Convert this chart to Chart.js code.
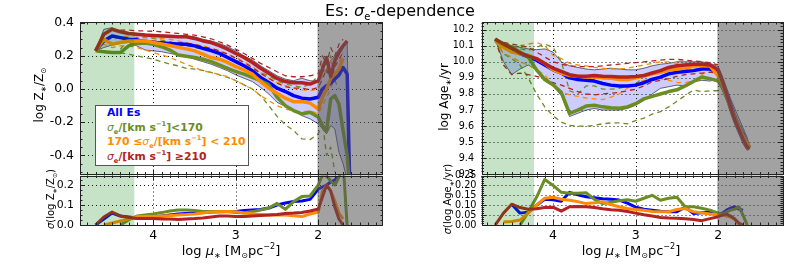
<!DOCTYPE html>
<html><head><meta charset="utf-8">
<script src="https://cdn.jsdelivr.net/npm/chart.js@4.4.1/dist/chart.umd.min.js"></script>
<style>
html,body{margin:0;padding:0;background:#fff;}
#wrap{position:relative;width:800px;height:265px;overflow:hidden;font-family:'DejaVu Sans',sans-serif;}
canvas{position:absolute;left:0;top:0;}
.t{position:absolute;white-space:nowrap;color:#000;}
.rot{transform:translate(-50%,-50%) rotate(-90deg);}
sub,sup{font-size:62%;line-height:0;}
#leg{position:absolute;left:95px;top:105px;width:141px;height:59px;border:1px solid #555;background:#fff;padding:0 0 0 11px;box-sizing:content-box;font-weight:bold;font-size:10.8px;line-height:14.5px;}
#leg i{font-weight:normal;}
</style></head><body>
<div id="wrap">
<canvas id="c1" width="800" height="265"></canvas>
<canvas id="c2" width="800" height="265"></canvas>
<canvas id="c3" width="800" height="265"></canvas>
<canvas id="c4" width="800" height="265"></canvas>
<div class="t" style="left:0;width:800px;text-align:center;top:1px;font-size:16px;">Es: <i>σ</i><sub>e</sub>-dependence</div>
<div class="t rot" style="left:39px;top:95px;font-size:12px;">log Z<sub>∗</sub>/Z<sub>⊙</sub></div>
<div class="t rot" style="left:50px;top:199px;font-size:10px;"><i>σ</i>(log Z<sub>∗</sub>/Z<sub>⊙</sub>)</div>
<div class="t rot" style="left:444px;top:97px;font-size:12px;">log Age<sub>∗</sub>/yr</div>
<div class="t rot" style="left:447px;top:199px;font-size:10px;"><i>σ</i>(log Age<sub>∗</sub>/yr)</div>
<div class="t" style="left:231px;top:250px;transform:translate(-50%,-50%);font-size:13px;">log <i>μ</i><sub>∗</sub> [M<sub>⊙</sub>pc<sup>−2</sup>]</div>
<div class="t" style="left:631px;top:250px;transform:translate(-50%,-50%);font-size:13px;">log <i>μ</i><sub>∗</sub> [M<sub>⊙</sub>pc<sup>−2</sup>]</div>
<div id="leg">
<div style="color:#0000ff">All Es</div>
<div style="color:#6b8e23"><i>σ</i><sub>e</sub>/[km s<sup>−1</sup>]&lt;170</div>
<div style="color:#ff8c00">170 ≤<i>σ</i><sub>e</sub>/[km s<sup>−1</sup>] &lt; 210</div>
<div style="color:#b22222"><i>σ</i><sub>e</sub>/[km s<sup>−1</sup>] ≥210</div>
</div>
</div>
<script>
// ---------- data ----------
const XS = [4.7,4.6,4.5,4.4,4.3,4.2,4.1,4.0,3.9,3.8,3.7,3.6,3.5,3.4,3.3,3.2,3.1,3.0,2.9,2.8,2.7,2.6,2.5,2.4,2.3,2.2,2.1,2.0,1.95,1.9,1.85,1.8,1.75,1.7,1.65,1.62];
const X_TICKS = [4,3,2];
const GREEN_EDGE = 4.23;
const GRAY_EDGE = 2.01;

// metallicity
const Z_ALL  = [0.23,0.29,0.32,0.31,0.30,0.295,0.285,0.28,0.277,0.274,0.272,0.27,0.26,0.245,0.232,0.215,0.19,0.165,0.14,0.11,0.07,0.04,0.005,-0.015,-0.04,-0.055,-0.06,-0.05, 0.0,0.02,0.034,0.06,0.084,0.13,0.09,-0.55];
const Z_LOW  = [0.23,0.225,0.22,0.22,0.26,0.275,0.277,0.27,0.255,0.235,0.205,0.197,0.19,0.18,0.165,0.145,0.125,0.105,0.09,0.07,0.05,0.025,-0.05,-0.1,-0.13,-0.15,-0.14,-0.17, -0.22,-0.25,-0.06,-0.04,-0.09,-0.25,-0.4,-0.6];
const Z_MID  = [0.23,0.30,0.27,0.28,0.29,0.29,0.29,0.28,0.272,0.262,0.252,0.242,0.23,0.21,0.19,0.18,0.16,0.135,0.115,0.09,0.045,0.005,-0.026,-0.055,-0.076,-0.075,-0.085,-0.12, -0.05,0.0,0.064,0.09,0.12,0.185,null,null];
const Z_HIGH = [0.23,0.33,0.36,0.345,0.335,0.33,0.325,0.323,0.32,0.318,0.315,0.315,0.305,0.29,0.28,0.262,0.24,0.214,0.19,0.16,0.125,0.095,0.064,0.045,0.038,0.038,0.03,0.05, 0.12,0.19,0.075,0.17,0.22,0.26,0.29,null];
const Z_BAND_HI = [0.23,0.36,0.37,0.35,0.34,0.335,0.33,0.328,0.325,0.323,0.32,0.32,0.315,0.30,0.29,0.275,0.255,0.23,0.2,0.175,0.14,0.11,0.08,0.06,0.05,0.065,0.05,0.045, 0.1,0.12,0.17,0.2,0.24,0.27,0.28,-0.6];
const Z_BAND_LO = [0.23,0.25,0.265,0.275,0.28,0.26,0.235,0.23,0.225,0.215,0.205,0.195,0.18,0.165,0.15,0.13,0.11,0.085,0.065,0.045,0.01,-0.03,-0.08,-0.105,-0.13,-0.16,-0.18,-0.21, -0.24,-0.27,-0.22,-0.24,-0.38,-0.45,-0.55,-0.6];
const Z_HIGH_UP = [0.23,0.33,0.355,0.355,0.355,0.35,0.35,0.348,0.345,0.34,0.335,0.33,0.325,0.315,0.303,0.285,0.265,0.24,0.214,0.185,0.155,0.13,0.104,0.08,0.074,0.074,0.08,0.094, 0.2,0.15,0.25,0.2,0.27,0.3,null,null];
const Z_HIGH_LO = [0.23,0.3,0.32,0.31,0.305,0.3,0.295,0.29,0.285,0.28,0.278,0.275,0.27,0.255,0.245,0.23,0.21,0.185,0.16,0.13,0.095,0.065,0.035,0.015,0.005,0.005,-0.005,0.01, 0.06,0.12,0.05,0.13,0.18,0.22,null,null];
const Z_MID_UP = [0.23,0.31,0.30,0.31,0.32,0.32,0.315,0.31,0.305,0.30,0.29,0.28,0.27,0.26,0.245,0.23,0.21,0.19,0.165,0.135,0.1,0.065,0.04,0.02,0.005,-0.005,-0.01,0.0, 0.08,0.12,0.17,0.2,0.16,0.22,null,null];
const Z_MID_LO = [0.23,0.27,0.25,0.26,0.26,0.25,0.235,0.22,0.205,0.19,0.17,0.148,0.13,0.11,0.1,0.088,0.074,0.05,0.025,0.0,-0.04,-0.07,-0.1,-0.12,-0.13,-0.14,-0.13,-0.15, -0.1,-0.05,0.0,0.08,null,null,null,null];
const Z_LOW_UP = [null,null,null,0.24,0.3,0.31,0.31,0.305,0.295,0.285,0.27,0.26,0.25,0.24,0.23,0.21,0.19,0.165,0.145,0.12,0.1,0.08,0.05,0.03,0.02,0.01,0.03,0.08, 0.15,0.1,0.2,0.05,0.0,null,null,null];
const Z_LOW_LO = [null,null,null,0.22,0.21,0.2,0.19,0.18,0.165,0.15,0.14,0.125,0.12,0.112,0.1,0.085,0.07,0.05,0.025,0.0,-0.04,-0.1,-0.165,-0.215,-0.25,-0.3,-0.305,-0.27, -0.2,-0.4,-0.35,-0.5,null,null,null,null];

// age
const A_ALL  = [10.14,10.10,10.07,10.05,10.03,10.01,9.98,9.95,9.93,9.90,9.89,9.885,9.88,9.865,9.855,9.85,9.85,9.855,9.87,9.89,9.905,9.925,9.935,9.94,9.945,9.955,9.955,9.93, 9.87,9.80,9.73,9.66,9.60,9.55,9.49,9.47];
const A_LOW  = [10.14,10.11,10.09,10.06,10.03,9.95,9.89,9.857,9.81,9.68,9.70,9.725,9.73,9.72,9.715,9.712,9.72,9.74,9.77,9.785,9.80,9.815,9.826,9.85,9.878,9.905,9.895,9.88, 9.84,9.78,9.72,9.66,9.60,9.54,9.49,9.47];
const A_MID  = [10.13,10.09,10.06,10.05,10.04,10.02,9.99,9.95,9.93,9.915,9.91,9.905,9.905,9.90,9.898,9.89,9.888,9.90,9.912,9.925,9.935,9.948,9.955,9.962,9.972,9.977,9.975,9.91, 9.86,9.79,9.72,9.65,9.59,9.54,9.49,9.47];
const A_HIGH = [10.14,10.11,10.085,10.055,10.035,10.02,9.99,9.96,9.94,9.92,9.91,9.91,9.915,9.91,9.909,9.905,9.905,9.909,9.915,9.93,9.945,9.965,9.975,9.98,9.985,9.985,9.98,9.95, 9.88,9.80,9.72,9.64,9.58,9.52,9.47,9.46];
const A_BAND_HI = [10.14,10.12,10.10,10.09,10.08,10.075,10.08,10.06,10.0,9.975,9.965,9.955,9.95,9.955,9.96,9.955,9.95,9.95,9.96,9.975,9.985,9.99,10.0,10.0,10.0,10.0,9.99,9.97, 9.91,9.84,9.77,9.71,9.65,9.59,9.53,9.47];
const A_BAND_LO = [10.14,10.0,9.92,9.955,9.98,9.95,9.88,9.85,9.79,9.66,9.68,9.70,9.71,9.70,9.70,9.70,9.71,9.73,9.76,9.80,9.835,9.845,9.855,9.85,9.875,9.885,9.88,9.895, 9.84,9.76,9.68,9.61,9.55,9.49,9.45,9.46];
const A_HIGH_UP = [10.14,10.12,10.11,10.1,10.09,10.06,10.03,10.0,9.985,9.975,9.97,9.97,9.97,9.975,9.98,9.985,9.99,9.995,10.0,10.005,10.01,10.015,10.015,10.01,10.005,10.0,9.995,9.98];
const A_HIGH_LO = [10.14,9.98,9.92,9.93,9.92,9.91,9.895,9.87,9.855,9.835,9.815,9.80,9.795,9.80,9.805,9.81,9.82,9.83,9.85,9.875,9.885,9.895,9.91,9.92,9.925,9.93,9.935,9.93];
const A_MID_UP = [10.13,10.1,10.08,10.1,10.11,10.12,10.1,10.04,10.02,9.99,9.98,9.975,9.965,9.96,9.955,9.955,9.96,9.97,9.98,9.99,10.0,10.0,9.99,9.99,9.985,9.96,9.97,9.95];
const A_MID_LO = [10.13,10.05,10.03,10.0,9.98,9.95,9.92,9.85,9.815,9.795,9.785,9.775,9.77,9.765,9.78,9.80,9.836,9.865,9.885,9.898,9.895,9.885,9.872,9.87,9.88,9.92,9.95,9.93];
const A_LOW_UP = [10.14,10.12,10.1,10.08,10.07,10.09,10.11,10.09,10.0,9.82,9.80,9.85,9.85,9.83,9.83,9.835,9.85,9.86,9.91,9.935,9.93,9.95,9.965,9.95,9.97,9.985,9.97,9.96];
const A_LOW_LO = [10.14,10.05,10.02,9.98,9.90,9.80,9.72,9.665,9.625,9.605,9.60,9.60,9.605,9.615,9.62,9.62,9.615,9.635,9.65,9.675,9.69,9.72,9.755,9.79,9.825,9.815,9.82,9.82];

// scatter (sigma)
const S_Z_ALL  = [0.0,0.03,0.06,0.045,0.04,0.035,0.035,0.04,0.045,0.05,0.055,0.058,0.06,0.063,0.065,0.066,0.067,0.068,0.072,0.075,0.078,0.085,0.1,0.11,0.117,0.12,0.128,0.18, 0.19,0.2,0.215,0.225,0.245,0.27,null,null];
const S_Z_LOW  = [null,null,null,0.0,0.025,0.045,0.05,0.055,0.062,0.07,0.075,0.075,0.072,0.067,0.067,0.067,0.067,0.062,0.06,0.067,0.075,0.085,0.108,0.078,0.117,0.142,0.145,0.2, 0.25,0.245,0.22,0.2,0.24,0.32,-0.01,null];
const S_Z_MID  = [null,0.0,0.01,0.02,0.03,0.042,0.042,0.043,0.045,0.047,0.05,0.052,0.055,0.06,0.065,0.066,0.067,0.066,0.06,0.056,0.053,0.05,0.05,0.05,0.046,0.042,0.055,0.065, 0.17,0.2,0.17,0.12,0.06,0.03,null,null];
const S_Z_HIGH = [0.0,0.04,0.065,0.045,0.038,0.033,0.033,0.032,0.03,0.03,0.028,0.03,0.032,0.035,0.04,0.045,0.045,0.043,0.042,0.045,0.048,0.05,0.052,0.058,0.06,0.063,0.07,0.08, 0.14,0.2,0.17,0.09,0.03,0.0,null,null];
const S_A_ALL  = [null,null,0.105,0.06,0.065,0.1,0.13,0.128,0.12,0.165,0.152,0.143,0.138,0.133,0.13,0.126,0.11,0.09,0.08,0.075,0.07,0.067,0.067,0.09,0.058,0.062,0.065,0.058, 0.06,0.075,0.085,0.092,0.08,0.075,null,null];
const S_A_LOW  = [null,null,null,0.0,0.065,0.14,0.23,0.2,0.165,0.16,0.16,0.163,0.13,0.108,0.115,0.122,0.128,0.12,0.135,0.15,0.125,0.135,0.14,0.092,0.092,0.085,0.075,0.06, 0.055,0.065,0.075,0.08,0.092,0.05,0.0,null];
const S_A_MID  = [null,0.015,0.018,0.025,0.06,0.1,0.135,0.14,0.13,0.125,0.118,0.108,0.112,0.117,0.103,0.092,0.083,0.078,0.074,0.068,0.067,0.067,0.078,0.083,0.067,0.062,0.056,0.05, 0.05,0.045,0.04,0.03,0.0,null,null,null];
const S_A_HIGH = [0.0,0.06,0.105,0.088,0.08,0.082,0.088,0.09,0.07,0.092,0.093,0.092,0.088,0.082,0.077,0.074,0.068,0.06,0.052,0.045,0.038,0.035,0.034,0.032,0.028,0.022,0.032,0.042, 0.05,0.055,0.045,0.03,0.01,0.0,null,null];

const Y_TICKS_Z = [-0.4,-0.2,0,0.2,0.4];
const Y_TICKS_SZ = [0,0.1,0.2];
const Y_TICKS_A = [9.3,9.4,9.5,9.6,9.7,9.8,9.9,10.0,10.1,10.2];
const Y_TICKS_SA = [0,0.05,0.1,0.15,0.2,0.25];

// ---------- drawing ----------
Chart.defaults.font.family = "'DejaVu Sans', sans-serif";
Chart.defaults.color = '#000';
const COL = {blue:'#0000ff', green:'#6b8e23', orange:'#ff8c00', red:'#b22222'};

function pts(a){ return XS.map((x,i)=>({x:x, y:(a[i]===undefined?null:a[i])})); }
function ln(a,color,w,order,dash){
  return {data:pts(a), borderColor:color, borderWidth:w, pointRadius:0, tension:0, fill:false,
          order:order, borderDash:dash||[], borderCapStyle:'butt', borderJoinStyle:'round', spanGaps:false};
}
function seq(a,b,step){ const r=[]; const n=Math.round((b-a)/step); for(let i=0;i<=n;i++) r.push(+(a+i*step).toFixed(4)); return r; }

const decor = {
  id:'decor',
  beforeDatasetsDraw(chart, args, o){
    const {ctx, chartArea:a, scales:{x,y}} = chart;
    ctx.save();
    ctx.strokeStyle='#111'; ctx.lineWidth=1; ctx.setLineDash([1,3]);
    ctx.beginPath();
    X_TICKS.forEach(v=>{const p=Math.round(x.getPixelForValue(v))+0.5; ctx.moveTo(p,a.top); ctx.lineTo(p,a.bottom);});
    o.yGrid.forEach(v=>{const p=Math.round(y.getPixelForValue(v))+0.5; if(p<=a.top+1.5||p>=a.bottom-1.5) return; ctx.moveTo(a.left,p); ctx.lineTo(a.right,p);});
    ctx.stroke(); ctx.restore();
  },
  afterDatasetsDraw(chart, args, o){
    const {ctx, chartArea:a, scales:{x,y}} = chart;
    ctx.save();
    const g1 = x.getPixelForValue(GREEN_EDGE);
    ctx.fillStyle='rgba(0,128,0,0.22)'; ctx.fillRect(a.left, a.top, g1-a.left, a.bottom-a.top);
    const h0 = x.getPixelForValue(GRAY_EDGE);
    ctx.fillStyle='rgba(85,85,85,0.55)'; ctx.fillRect(h0, a.top, a.right-h0, a.bottom-a.top);
    ctx.strokeStyle='#222'; ctx.lineWidth=1; ctx.setLineDash([]);
    ctx.beginPath();
    const xt=(vals,len)=>vals.forEach(v=>{const p=Math.round(x.getPixelForValue(v))+0.5; if(p<a.left+1||p>a.right-1) return;
      ctx.moveTo(p,a.bottom); ctx.lineTo(p,a.bottom-len); ctx.moveTo(p,a.top); ctx.lineTo(p,a.top+len);});
    const yt=(vals,len)=>vals.forEach(v=>{const p=Math.round(y.getPixelForValue(v))+0.5; if(p<a.top+1||p>a.bottom-1) return;
      ctx.moveTo(a.left,p); ctx.lineTo(a.left+len,p); ctx.moveTo(a.right,p); ctx.lineTo(a.right-len,p);});
    xt(seq(1.3,4.8,0.1),2.5); xt(X_TICKS,5);
    yt(o.yMinor,2.5); yt(o.yMajor,5);
    ctx.stroke();
    ctx.strokeRect(Math.round(a.left)+0.5, Math.round(a.top)+0.5, Math.round(a.right-a.left)-1, Math.round(a.bottom-a.top)-1);
    ctx.restore();
  }
};

function makeChart(id, P){
  return new Chart(document.getElementById(id), {
    type:'line',
    data:{datasets:P.datasets},
    options:{
      responsive:false, animation:false, events:[],
      layout:{padding:{left:P.l-P.yw, right:800-P.r, top:P.t, bottom:265-P.b-(P.xLab?P.xh:0)}},
      plugins:{legend:{display:false}, tooltip:{enabled:false}, filler:{drawTime:'beforeDatasetsDraw'}, decor:P.decor},
      scales:{
        x:{type:'linear', reverse:true, min:P.xmin, max:P.xmax, display:!!P.xLab,
           grid:{display:false, drawTicks:false}, border:{display:false},
           afterBuildTicks:s=>{s.ticks=X_TICKS.map(v=>({value:v}));},
           afterFit:s=>{s.height=P.xh||0;},
           ticks:{autoSkip:false, maxRotation:0, padding:3, font:{size:12.5}, callback:v=>String(v)}},
        y:{type:'linear', min:P.ymin, max:P.ymax, grid:{display:false, drawTicks:false}, border:{display:false},
           afterBuildTicks:s=>{s.ticks=P.yTicks.map(v=>({value:v}));},
           afterFit:s=>{s.width=P.yw;},
           ticks:{autoSkip:false, padding:P.ypad, font:{size:P.yfs}, callback:v=>v.toFixed(P.yDec)}}
      }
    },
    plugins:[decor]
  });
}

const bandEdge='rgba(30,30,50,0.85)', bandFill='rgba(0,0,255,0.2)', DASH=[5,4];
function bandSets(hi,lo){
  return [
    {data:pts(hi), borderColor:bandEdge, borderWidth:0.8, pointRadius:0, tension:0, fill:false, order:30},
    {data:pts(lo), borderColor:bandEdge, borderWidth:0.8, pointRadius:0, tension:0, fill:'-1', backgroundColor:bandFill, order:29}
  ];
}

makeChart('c1', {l:80, r:383, t:22, b:174.5, yw:80, xmin:1.216, xmax:4.889, ymin:-0.515, ymax:0.404,
  yTicks:Y_TICKS_Z, yDec:1, yfs:12.4, ypad:6,
  decor:{yGrid:[-0.4,-0.2,0,0.2], yMajor:Y_TICKS_Z, yMinor:seq(-0.5,0.4,0.05)},
  datasets:[...bandSets(Z_BAND_HI,Z_BAND_LO),
    ln(Z_LOW_UP,COL.green,1.3,20,DASH), ln(Z_LOW_LO,COL.green,1.3,20,DASH),
    ln(Z_MID_UP,COL.orange,1.3,19,DASH), ln(Z_MID_LO,COL.orange,1.3,19,DASH),
    ln(Z_HIGH_UP,COL.red,1.3,18,DASH), ln(Z_HIGH_LO,COL.red,1.3,18,DASH),
    ln(Z_ALL,COL.blue,3.5,4), ln(Z_LOW,COL.green,3.5,3), ln(Z_MID,COL.orange,3.5,2), ln(Z_HIGH,COL.red,3.5,1)]
});
makeChart('c2', {l:80, r:383, t:175.5, b:225, yw:80, xmin:1.216, xmax:4.889, ymin:0, ymax:0.2475,
  yTicks:Y_TICKS_SZ, yDec:1, yfs:10.9, ypad:6, xLab:true, xh:20,
  decor:{yGrid:[0.1,0.2], yMajor:Y_TICKS_SZ, yMinor:seq(0,0.25,0.025)},
  datasets:[ln(S_Z_ALL,COL.blue,3,4), ln(S_Z_LOW,COL.green,3,3), ln(S_Z_MID,COL.orange,3,2), ln(S_Z_HIGH,COL.red,3,1)]
});
makeChart('c3', {l:481.5, r:783, t:22, b:174.5, yw:60, xmin:1.216, xmax:4.866, ymin:9.3, ymax:10.247,
  yTicks:Y_TICKS_A, yDec:1, yfs:9.6, ypad:7.5,
  decor:{yGrid:seq(9.4,10.2,0.1), yMajor:Y_TICKS_A, yMinor:seq(9.3,10.24,0.02)},
  datasets:[...bandSets(A_BAND_HI,A_BAND_LO),
    ln(A_LOW_UP,COL.green,1.3,20,DASH), ln(A_LOW_LO,COL.green,1.3,20,DASH),
    ln(A_MID_UP,COL.orange,1.3,19,DASH), ln(A_MID_LO,COL.orange,1.3,19,DASH),
    ln(A_HIGH_UP,COL.red,1.3,18,DASH), ln(A_HIGH_LO,COL.red,1.3,18,DASH),
    ln(A_ALL,COL.blue,3.5,4), ln(A_LOW,COL.green,3.5,3), ln(A_MID,COL.orange,3.5,2), ln(A_HIGH,COL.red,3.5,1)]
});
makeChart('c4', {l:481.5, r:783, t:175.5, b:225, yw:60, xmin:1.216, xmax:4.866, ymin:0, ymax:0.25,
  yTicks:Y_TICKS_SA, yDec:2, yfs:9.7, ypad:5, xLab:true, xh:20,
  decor:{yGrid:seq(0.05,0.2,0.05), yMajor:Y_TICKS_SA, yMinor:seq(0,0.25,0.01)},
  datasets:[ln(S_A_ALL,COL.blue,3,4), ln(S_A_LOW,COL.green,3,3), ln(S_A_MID,COL.orange,3,2), ln(S_A_HIGH,COL.red,3,1)]
});
</script>
</body></html>
